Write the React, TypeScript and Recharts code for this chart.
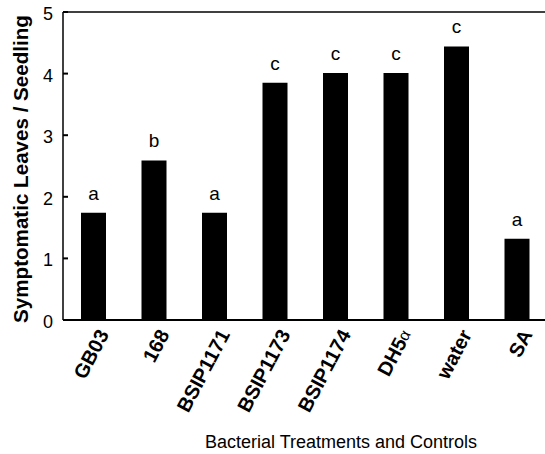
import React from 'react';
import { BarChart, Bar, XAxis, YAxis, LabelList, ReferenceLine } from 'recharts';

const categories = ['GB03', '168', 'BSIP1171', 'BSIP1173', 'BSIP1174', 'DH5α', 'water', 'SA'];
const values = [1.74, 2.59, 1.74, 3.85, 4.01, 4.01, 4.44, 1.32];
const letters = ['a', 'b', 'a', 'c', 'c', 'c', 'c', 'a'];
const yTicks = [0, 1, 2, 3, 4, 5];
const yLabel = 'Symptomatic Leaves / Seedling';
const xLabel = 'Bacterial Treatments and Controls';

const data = categories.map((name, i) => ({ name, value: values[i], letter: letters[i] }));

const FONT = '"Liberation Sans", Arial, Helvetica, sans-serif';

const XTick = (props: any) => {
  const { x, y, payload } = props;
  const label: string = payload.value;
  const ax = x + 10;
  const ay = y + 11;
  const hasAlpha = label.endsWith('α');
  return (
    <text
      x={ax}
      y={ay}
      textAnchor="end"
      dominantBaseline="central"
      transform={`rotate(-62, ${ax}, ${ay})`}
      fontFamily={FONT}
      fontWeight="bold"
      fontSize={20}
      fill="#000"
    >
      {hasAlpha ? (
        <>
          {label.slice(0, -1)}
          <tspan fontWeight="normal" fontSize={16}>α</tspan>
        </>
      ) : (
        label
      )}
    </text>
  );
};

const YTick = (props: any) => {
  const { x, y, payload } = props;
  return (
    <g>
      <line x1={x} y1={y} x2={x + 5} y2={y} stroke="#000" strokeWidth={2} />
      <text
        x={x - 10}
        y={y + 2}
        textAnchor="end"
        dominantBaseline="central"
        fontFamily={FONT}
        fontSize={18}
        fill="#000"
      >
        {payload.value}
      </text>
    </g>
  );
};

const YTitle = () => (
  <text
    x={20}
    y={169}
    transform="rotate(-90, 20, 169)"
    textAnchor="middle"
    dominantBaseline="central"
    fontFamily={FONT}
    fontWeight="bold"
    fontSize={20.6}
    fill="#000"
  >
    {yLabel}
  </text>
);

const XTitle = () => (
  <text x={341} y={448} textAnchor="middle" fontFamily={FONT} fontSize={18} fill="#000">
    {xLabel}
  </text>
);

export default function App() {
  return (
    <div style={{ position: 'absolute', left: 0, top: 0, width: 545, height: 454, overflow: 'hidden', background: '#fff' }}>
      <BarChart
        width={560}
        height={454}
        data={data}
        margin={{ top: 12, right: 13, left: 0, bottom: 0 }}
        barCategoryGap={0}
      >
        <XAxis
          dataKey="name"
          height={134}
          tickLine={false}
          tickSize={0}
          tickMargin={0}
          interval={0}
          axisLine={{ stroke: '#000', strokeWidth: 2 }}
          tick={<XTick />}
          label={{ content: () => <XTitle /> }}
        />
        <YAxis
          width={63}
          domain={[0, 5]}
          ticks={yTicks}
          tickLine={false}
          tickSize={0}
          tickMargin={0}
          axisLine={{ stroke: '#000', strokeWidth: 1.5 }}
          tick={<YTick />}
          label={{ content: () => <YTitle /> }}
        />
        <ReferenceLine y={5} stroke="#000" strokeWidth={1.5} />
        <Bar dataKey="value" fill="#000" barSize={25} isAnimationActive={false}>
          <LabelList
            dataKey="letter"
            position="top"
            offset={13}
            fill="#000"
            fontSize={19}
            fontFamily={FONT}
          />
        </Bar>
      </BarChart>
    </div>
  );
}
